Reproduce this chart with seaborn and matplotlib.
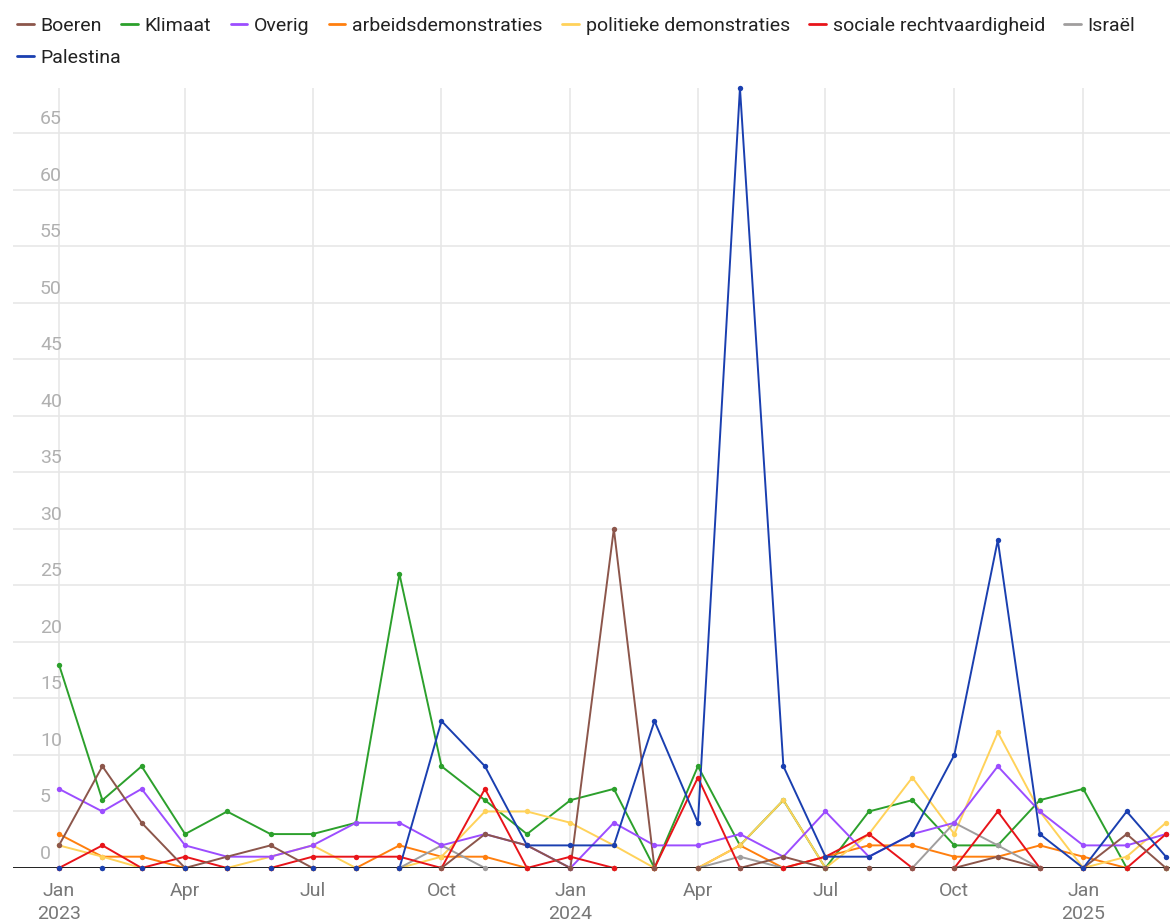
import pandas as pd
import numpy as np
import matplotlib
matplotlib.use('Agg')
import matplotlib.pyplot as plt
import matplotlib.dates as mdates
import matplotlib.transforms as mtransforms
from matplotlib.lines import Line2D
import seaborn as sns

# monthly counts, Jan 2023 - Mar 2025
months = pd.date_range('2023-01-01', periods=27, freq='MS')

boeren = [2, 9, 4, 0, 1, 2, 0, 0, 0, 0, 3, 2, 0, 30, 0, 0, 0, 1, 0, 0, 0, 0, 1, 0, 0, 3, 0]
klimaat = [18, 6, 9, 3, 5, 3, 3, 4, 26, 9, 6, 3, 6, 7, 0, 9, 2, 6, 0, 5, 6, 2, 2, 6, 7, 0, 0]
overig = [7, 5, 7, 2, 1, 1, 2, 4, 4, 2, 3, 2, 0, 4, 2, 2, 3, 1, 5, 1, 3, 4, 9, 5, 2, 2, 3]
arbeid = [3, 1, 1, 0, 0, 0, 0, 0, 2, 1, 1, 0, 0, 0, 0, 0, 2, 0, 1, 2, 2, 1, 1, 2, 1, 0, 0]
politiek = [2, 1, 0, 0, 0, 1, 2, 0, 0, 1, 5, 5, 4, 2, 0, 0, 2, 6, 0, 3, 8, 3, 12, 5, 0, 1, 4]
sociaal = [0, 2, 0, 1, 0, 0, 1, 1, 1, 0, 7, 0, 1, 0, 0, 8, 0, 0, 1, 3, 0, 0, 5, 0, 0, 0, 3]
israel = [0, 0, 0, 0, 0, 0, 0, 0, 0, 2, 0, 0, 0, 0, 0, 0, 1, 0, 0, 0, 0, 4, 2, 0, 0, 0, 0]
palestina = [0, 0, 0, 0, 0, 0, 0, 0, 0, 13, 9, 2, 2, 2, 13, 4, 69, 9, 1, 1, 3, 10, 29, 3, 0, 5, 1]

series = {
    'Boeren': boeren,
    'Klimaat': klimaat,
    'Overig': overig,
    'arbeidsdemonstraties': arbeid,
    'politieke demonstraties': politiek,
    'sociale rechtvaardigheid': sociaal,
    'Israël': israel,
    'Palestina': palestina,
}
colors = {
    'Boeren': '#8c564b',
    'Klimaat': '#2ca02c',
    'Overig': '#9c4dff',
    'arbeidsdemonstraties': '#ff7f0e',
    'politieke demonstraties': '#ffd25a',
    'sociale rechtvaardigheid': '#e8141a',
    'Israël': '#a09e9e',
    'Palestina': '#1a3fb0',
}
legend_order = list(series.keys())
# drawing order (last one on top)
draw_order = ['Klimaat', 'arbeidsdemonstraties', 'politieke demonstraties', 'Israël',
              'Overig', 'sociale rechtvaardigheid', 'Boeren', 'Palestina']

df = pd.concat([pd.DataFrame({'maand': months, 'aantal': v, 'reeks': k})
                for k, v in series.items()], ignore_index=True)

sns.set_style('white')
plt.rcParams['font.family'] = ['Roboto', 'DejaVu Sans']

fig = plt.figure(figsize=(11.7, 9.21), dpi=100)
ax = fig.add_axes([13 / 1170, 53 / 921, 1157 / 1170, 780 / 921])

sns.lineplot(data=df, x='maand', y='aantal', hue='reeks', hue_order=draw_order,
             palette=colors, linewidth=1.4, legend=False, ax=ax, zorder=2)
ax.axhline(0, color='#222222', lw=1.4, zorder=3)
for i, name in enumerate(draw_order):
    sub = df[df['reeks'] == name]
    ax.scatter(sub['maand'], sub['aantal'], s=15, color=colors[name],
               linewidths=0, zorder=4 + i, clip_on=False)

# axes limits
start = mdates.date2num(pd.Timestamp('2023-01-01')) - 32.8
end = mdates.date2num(pd.Timestamp('2025-03-01')) + 2.9
ax.set_xlim(start, end)
ax.set_ylim(0, 69)

# y grid + labels sitting above the gridlines
ax.set_yticks(range(0, 70, 5))
ax.tick_params(axis='y', length=0, labelleft=False)
ylab_tr = mtransforms.blended_transform_factory(ax.transAxes, ax.transData) + \
    mtransforms.ScaledTranslation(27 / 100, 5 / 100, fig.dpi_scale_trans)
for v in ax.get_yticks():
    ax.text(0, v, f'{int(v)}', transform=ylab_tr, ha='left', va='bottom',
            fontsize=14, color='#b0b0b0')

# quarterly x ticks
qticks = pd.date_range('2023-01-01', '2025-01-01', freq='QS')
qlabels = [f'{d.strftime("%b")}\n{d.year}' if d.month == 1 else d.strftime('%b') for d in qticks]
ax.set_xticks(mdates.date2num(qticks))
ax.set_xticklabels(qlabels, fontsize=14, color='#777777', linespacing=1.35, va='top')
ax.tick_params(axis='x', length=0, pad=10)

ax.grid(True, color='#e6e6e6', lw=1.1, zorder=0)
ax.set_axisbelow(True)
for s in ax.spines.values():
    s.set_visible(False)
ax.set_xlabel('')
ax.set_ylabel('')

# legend, first row 7 items, second row Palestina
handles = [Line2D([], [], color=colors[n], lw=2) for n in legend_order]
leg_kw = dict(loc='upper left', frameon=False, fontsize=14, handlelength=0.85,
              handletextpad=0.35, columnspacing=1.0, borderpad=0, borderaxespad=0)
leg1 = fig.legend(handles[:7], legend_order[:7], ncol=7,
                  bbox_to_anchor=(17 / 1170, 1 - 17 / 921), **leg_kw)
leg2 = fig.legend(handles[7:], legend_order[7:], ncol=1,
                  bbox_to_anchor=(17 / 1170, 1 - 49 / 921), **leg_kw)
for leg in (leg1, leg2):
    for t in leg.get_texts():
        t.set_color('#222222')

plt.savefig('out.png', dpi=100)
